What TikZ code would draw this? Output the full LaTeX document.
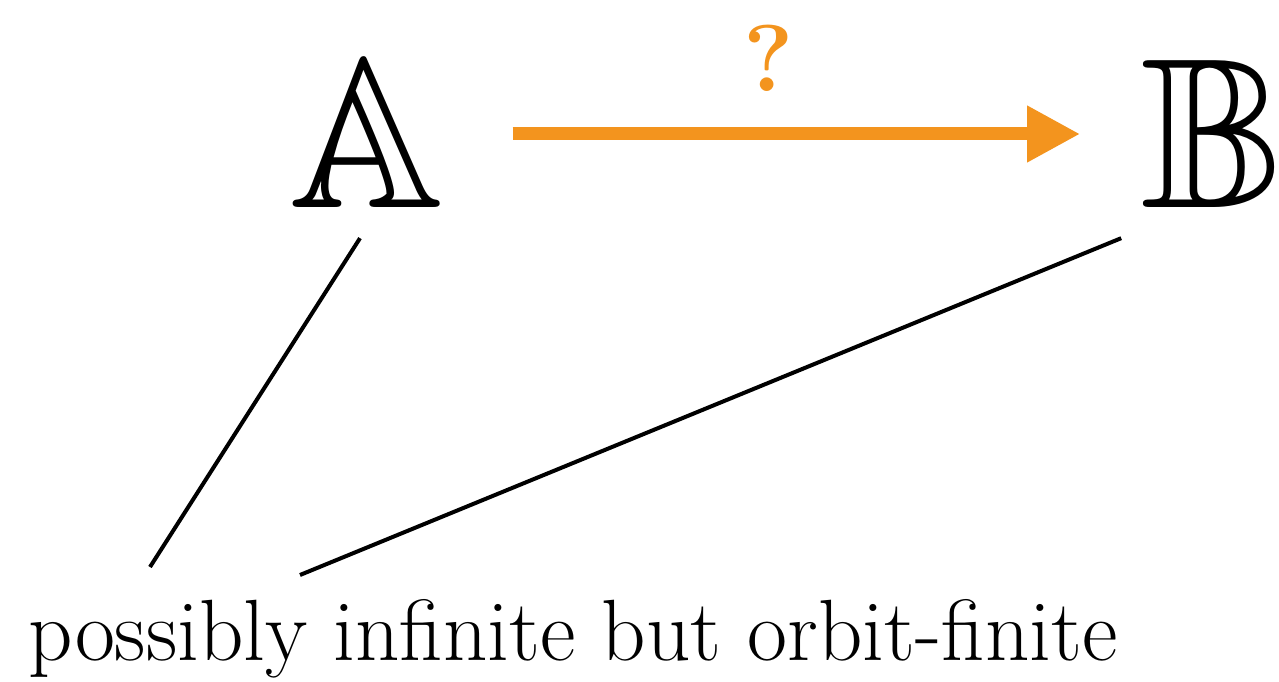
\documentclass[tikz,border=0pt]{standalone}
\usepackage{amssymb}
\usepackage{tikz}
\usetikzlibrary{arrows.meta}

\definecolor{qorange}{RGB}{243,148,30}

\begin{document}
\begin{tikzpicture}[x=0.02cm, y=-0.02cm,
	set/.style={inner sep=0pt, font=\fontsize{122}{122}\selectfont},
	qarrow/.style={-{Triangle[length=1.06cm, width=1.06cm]}, qorange, line width=0.26cm},
	link/.style={line width=0.08cm}]
	\useasboundingbox (0,0) rectangle (1279,682);
	\node[set] (A) at (367,134) {$\mathbb{A}$};
	\node[set] (B) at (1213,134) {$\mathbb{B}$};
	\node[anchor=base west, inner sep=0pt, font=\fontsize{49.5}{49.5}\selectfont] (txt) at (28,660) {possibly infinite but orbit-finite};
	\coordinate (lA) at (150,567);
	\coordinate (lB) at (300,575);
	% the unknown map
	\draw[qarrow, shorten <=1.36cm, shorten >=1.22cm] (A) -- (B)
		node[pos=0.465, above=0.72cm, inner sep=0pt, font=\fontsize{54}{54}\selectfont\bfseries] (q) {?};
	% both sets
	\draw[link] ([xshift=-0.14cm, yshift=-0.6cm]A.south) -- (lA);
	\draw[link] ([xshift=-0.4cm, yshift=-0.6cm]B.south west) -- (lB);
\end{tikzpicture}
\end{document}
